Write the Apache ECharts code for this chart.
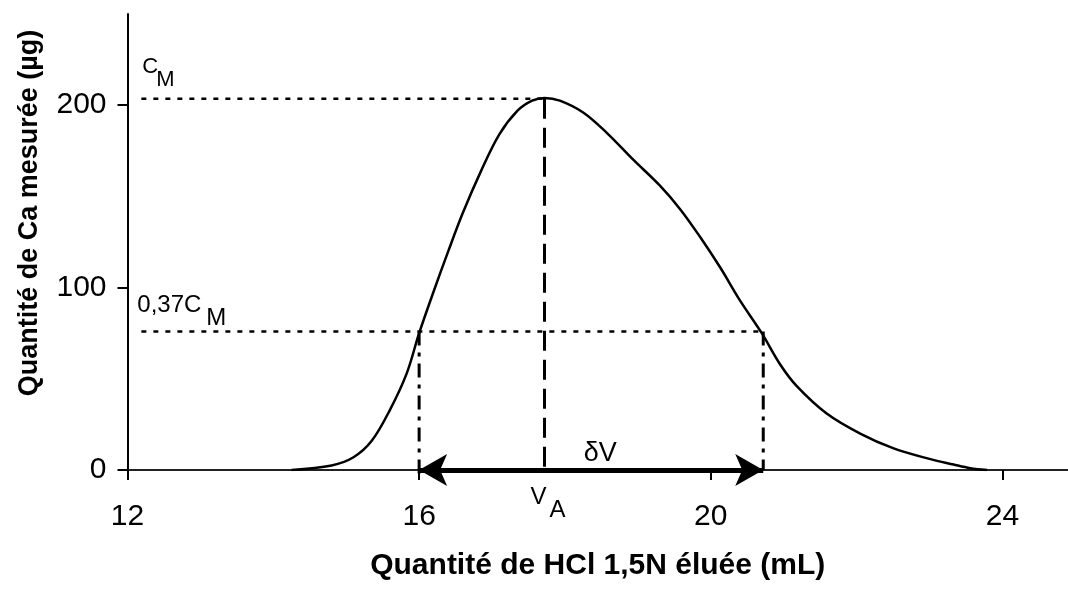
<!DOCTYPE html>
<html><head><meta charset="utf-8">
<script src="https://cdn.jsdelivr.net/npm/echarts@6/dist/echarts.min.js"></script>
<style>html,body{margin:0;padding:0;background:#fff}#c{width:1068px;height:593px}</style>
</head><body><div id="c"></div>
<script>
// ---- data ----
const curveX = [14.25, 14.8, 15.1, 15.35, 15.6, 15.83, 16.0, 16.2, 16.4, 16.6, 16.85, 17.1, 17.35, 17.55, 17.72, 17.93, 18.25, 18.57, 18.94, 19.30, 19.58, 19.85, 20.13, 20.40, 20.70, 20.95, 21.18, 21.59, 22.05, 22.50, 22.96, 23.33, 23.56, 23.79];
const curveY = [0, 2.5, 7, 16, 33, 53, 75, 98, 120, 141, 164, 184, 197, 202.5, 204, 202.5, 196, 185, 170, 156, 143, 128, 111, 93, 75, 58, 46, 31, 20, 12, 6.5, 3, 1, 0];
const xTicks = [12, 16, 20, 24];
const yTicks = [0, 100, 200];
const CM = 203.5;          // peak value C_M
const VA = 17.72;          // elution volume at peak
const L037 = 76;           // 0.37 C_M level
const vLeft = 16.0;        // left intersection
const vRight = 20.72;      // right intersection
const hStart = 12.19;      // start of horizontal guides
const xTitle = 'Quantité de HCl 1,5N éluée (mL)';
const yTitle = 'Quantité de Ca mesurée (µg)';

const FONT = "'Liberation Sans',Arial,sans-serif";

const chart = echarts.init(document.getElementById('c'), null, {renderer: 'canvas'});
const black = '#000';
function seg(pts, dash, width, clip) {
  return {type: 'line', data: pts, showSymbol: false, symbol: 'none', silent: true,
    clip: clip !== false, lineStyle: {color: black, width: width, type: dash}, z: 3};
}
chart.setOption({
  animation: false,
  backgroundColor: '#fff',
  grid: {left: 127.5, right: 0, top: 14, bottom: 123},
  xAxis: [{
    type: 'value', min: 12, max: 24.9, position: 'bottom',
    axisLine: {show: true, onZero: false, lineStyle: {color: black, width: 2}},
    axisTick: {show: true, inside: false, length: 10, customValues: xTicks, lineStyle: {color: black, width: 2}},
    axisLabel: {customValues: xTicks, margin: 32, color: black, fontSize: 30, fontFamily: FONT},
    splitLine: {show: false},
    name: xTitle, nameLocation: 'middle', nameGap: 81,
    nameTextStyle: {fontSize: 30, fontWeight: 'bold', fontFamily: FONT, color: black}
  }, {
    type: 'value', min: 12, max: 24.9, position: 'top',
    axisLine: {show: true, lineStyle: {color: '#222', width: 2}},
    axisTick: {show: false}, axisLabel: {show: false}, splitLine: {show: false}
  }],
  yAxis: {
    type: 'value', min: 0, max: 250,
    axisLine: {show: true, lineStyle: {color: black, width: 2}},
    axisTick: {show: true, length: 10, customValues: yTicks, lineStyle: {color: black, width: 2}},
    axisLabel: {customValues: yTicks, margin: 21, color: black, fontSize: 30, fontFamily: FONT,
      padding: [6, 0, 0, 0]},
    splitLine: {show: false}
  },
  series: [
    {type: 'line', data: curveX.map((x, i) => [x, curveY[i]]), smooth: 0.35, showSymbol: false,
      symbol: 'none', lineStyle: {color: black, width: 2.5}, z: 4},
    seg([[hStart, CM], [VA, CM]], [5, 7], 2.5),
    seg([[hStart, L037], [vRight, L037]], [5, 7], 2.5),
    seg([[VA, CM], [VA, 0]], [20, 9], 3),
    seg([[vLeft, L037], [vLeft, -3]], [14, 7, 4, 7], 3, false),
    seg([[vRight, L037], [vRight, 0]], [14, 7, 4, 7], 3),
    {type: 'line', data: [], silent: true,
      markLine: {silent: true, symbol: ['arrow', 'arrow'], symbolSize: [24, 28], animation: false,
        label: {show: false}, lineStyle: {color: black, width: 5, type: 'solid'},
        data: [[{coord: [vLeft, 0]}, {coord: [vRight, 0]}]]}, z: 5}
  ]
});

function px(x, y) { return chart.convertToPixel({gridIndex: 0}, [x, y]); }
const pCM = px(hStart, CM), pL = px(hStart, L037), pVA = px(VA, 0);
const pDV = px((vLeft + vRight) / 2, 0);
function txt(x, y, s, size) {
  return {type: 'text', x: x, y: y, style: {text: s, fill: black, fontSize: size, fontFamily: FONT,
    align: 'left', verticalAlign: 'middle'}};
}
chart.setOption({graphic: [
  txt(pCM[0] + 1, pCM[1] - 32, 'C', 22),
  txt(pCM[0] + 15, pCM[1] - 19, 'M', 22),
  txt(pL[0] - 4, pL[1] - 26, '0,37C', 24),
  txt(pL[0] + 65, pL[1] - 13, 'M', 24),
  txt(pVA[0] - 14, pVA[1] + 27, 'V', 24),
  txt(pVA[0] + 5, pVA[1] + 40, 'A', 24),
  {type: 'text', x: pDV[0] + 9, y: pDV[1] - 16, style: {text: 'δV', fill: black, fontSize: 27,
    fontFamily: FONT, align: 'center', verticalAlign: 'middle'}},
  {type: 'text', x: 30, y: 213, rotation: Math.PI / 2,
    style: {text: yTitle, fill: black, fontSize: 27, fontWeight: 'bold', fontFamily: FONT,
      align: 'center', verticalAlign: 'middle'}}
]});
</script></body></html>
